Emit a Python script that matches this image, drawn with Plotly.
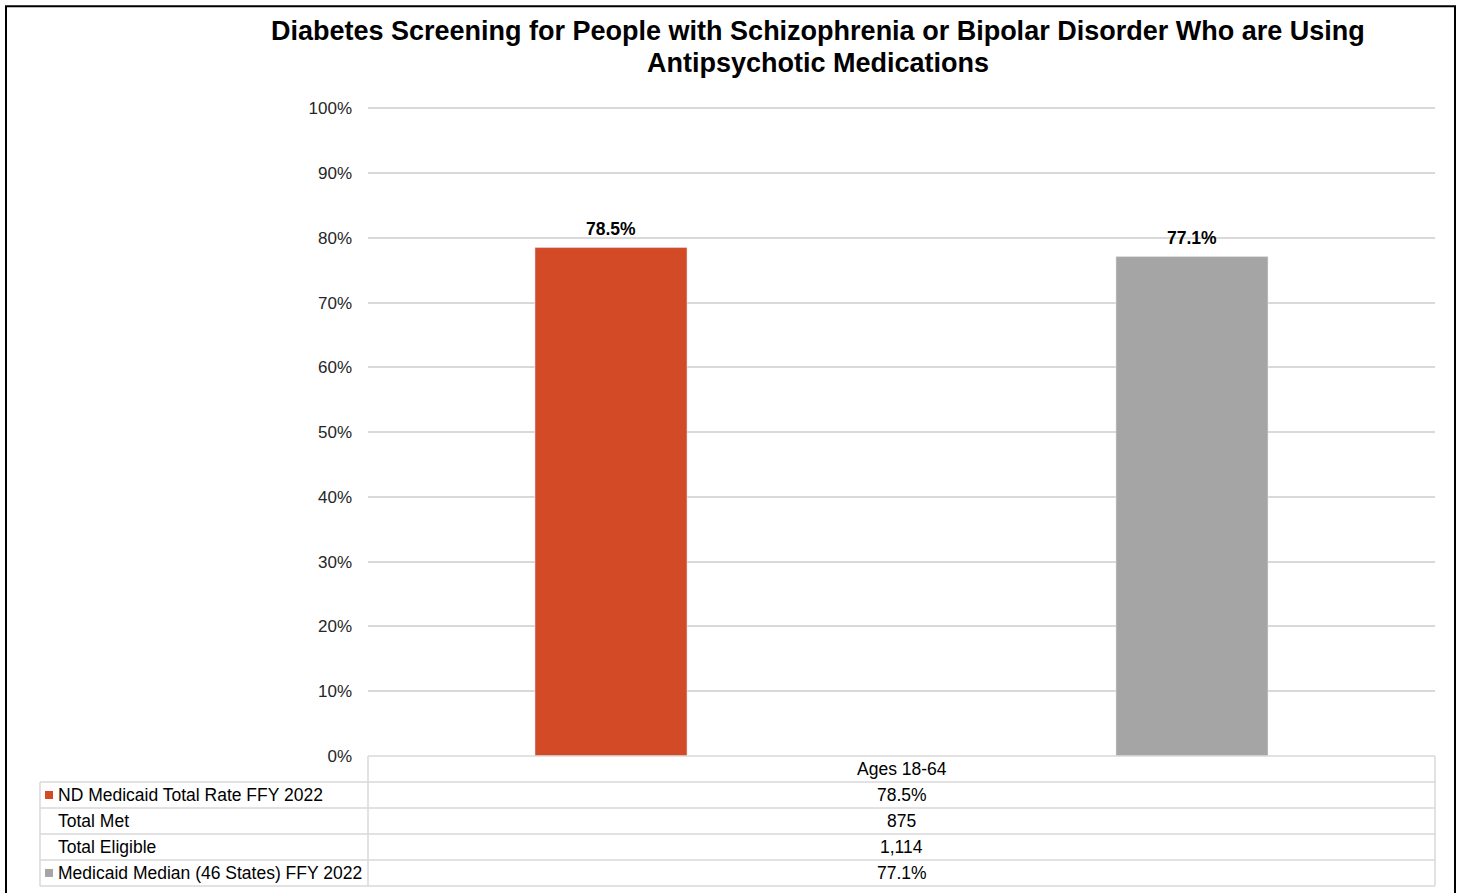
import plotly.graph_objects as go

# ---- data ----
title_lines = ["Diabetes Screening for People with Schizophrenia or Bipolar Disorder Who are Using",
               "Antipsychotic Medications"]
category = ["Ages 18-64"]
series_names = ["ND Medicaid Total Rate FFY 2022", "Medicaid Median (46 States) FFY 2022"]
nd_rate = [78.5]
median_rate = [77.1]
table_labels = ["ND Medicaid Total Rate FFY 2022", "Total Met", "Total Eligible",
                "Medicaid Median (46 States) FFY 2022"]
table_values = ["78.5%", "875", "1,114", "77.1%"]
y_ticks = list(range(0, 101, 10))

RED = "#D34A27"
GRAY = "#A5A5A5"
GRID = "#D9D9D9"
FONT = "Liberation Sans, Arial, sans-serif"

W, H = 1460, 893
YMAX = 100.2
L, R, B = 368, 1435, 756
T = B - 648 * YMAX / 100


def px(x):
    return (x - L) / (R - L)


def py(y):
    return (B - y) / (B - T)


fig = go.Figure()
bar_w = 0.1425
offsets = [-0.3435, 0.201]
for vals, name, color, off in [(nd_rate, series_names[0], RED, offsets[0]),
                               (median_rate, series_names[1], GRAY, offsets[1])]:
    fig.add_trace(go.Bar(x=category, y=vals, name=name, marker_color=color,
                         width=bar_w, offset=off))

shapes = []
annotations = []

# data labels above bars
for vals, off in [(nd_rate, offsets[0]), (median_rate, offsets[1])]:
    for c, v in zip(category, vals):
        annotations.append(dict(x=off + bar_w / 2, y=v, xref="x", yref="y",
                                text=f"<b>{v:.1f}%</b>", showarrow=False,
                                xanchor="center", yanchor="bottom", yshift=7,
                                font=dict(size=17.5, color="#000", family=FONT)))


def hline(x0, x1, y, color=GRID, w=1.5):
    shapes.append(dict(type="line", xref="paper", yref="paper", x0=px(x0), x1=px(x1),
                       y0=py(y), y1=py(y), line=dict(color=color, width=w)))


def vline(x, y0, y1, color=GRID, w=1.5):
    shapes.append(dict(type="line", xref="paper", yref="paper", x0=px(x), x1=px(x),
                       y0=py(y0), y1=py(y1), line=dict(color=color, width=w)))


row_h = 26
table_top = B
hline(L, R, table_top)
rows_top = table_top + row_h
for i in range(len(table_labels) + 1):
    hline(40, R, rows_top + i * row_h)
vline(40, rows_top, rows_top + len(table_labels) * row_h)
vline(L, table_top, rows_top + len(table_labels) * row_h)
vline(R, table_top, rows_top + len(table_labels) * row_h)

TF = 17.5
annotations.append(dict(xref="paper", yref="paper", x=px((L + R) / 2), y=py(table_top + row_h / 2),
                        text=category[0], showarrow=False, xanchor="center", yanchor="middle",
                        font=dict(size=TF, color="#000", family=FONT)))
for i, (lab, val) in enumerate(zip(table_labels, table_values)):
    yc = rows_top + i * row_h + row_h / 2
    annotations.append(dict(xref="paper", yref="paper", x=px(56), y=py(yc), text=lab,
                            showarrow=False, xanchor="left", yanchor="middle",
                            font=dict(size=TF, color="#000", family=FONT)))
    annotations.append(dict(xref="paper", yref="paper", x=px((L + R) / 2), y=py(yc), text=val,
                            showarrow=False, xanchor="center", yanchor="middle",
                            font=dict(size=TF, color="#000", family=FONT)))

for i, c in [(0, RED), (3, GRAY)]:
    yc = rows_top + i * row_h + row_h / 2
    shapes.append(dict(type="rect", xref="paper", yref="paper", x0=px(45), x1=px(53),
                       y0=py(yc - 4), y1=py(yc + 4), fillcolor=c, line=dict(width=0)))

# outer border
shapes.append(dict(type="rect", xref="paper", yref="paper", x0=px(6), x1=px(1455),
                   y0=py(6), y1=py(900), line=dict(color="#000", width=2), fillcolor="rgba(0,0,0,0)"))

for line_text, yc in zip(title_lines, [31, 63]):
    annotations.append(dict(xref="paper", yref="paper", x=px(818), y=py(yc),
                            text=line_text, showarrow=False,
                            xanchor="center", yanchor="middle",
                            font=dict(size=27, color="#000", family=FONT, weight="bold")))

fig.update_layout(
    width=W, height=H,
    margin=dict(l=L, r=W - R, t=T, b=H - B, autoexpand=False),
    paper_bgcolor="white", plot_bgcolor="white",
    showlegend=False,
    barmode="overlay",
    shapes=shapes, annotations=annotations,
    xaxis=dict(showticklabels=False, showgrid=False, zeroline=False, showline=False,
               range=[-0.5, 0.5]),
    yaxis=dict(range=[0, YMAX], tickvals=y_ticks, ticktext=[f"{v}%" for v in y_ticks],
               showgrid=True, gridcolor=GRID, gridwidth=1.5, zeroline=False, showline=False,
               ticks="", ticklabelstandoff=15,
               tickfont=dict(size=17, color="#262626", family=FONT)),
    font=dict(family=FONT),
)

fig.write_html("out.html", config={"displayModeBar": False},
               post_script="document.body.style.margin='0';")
